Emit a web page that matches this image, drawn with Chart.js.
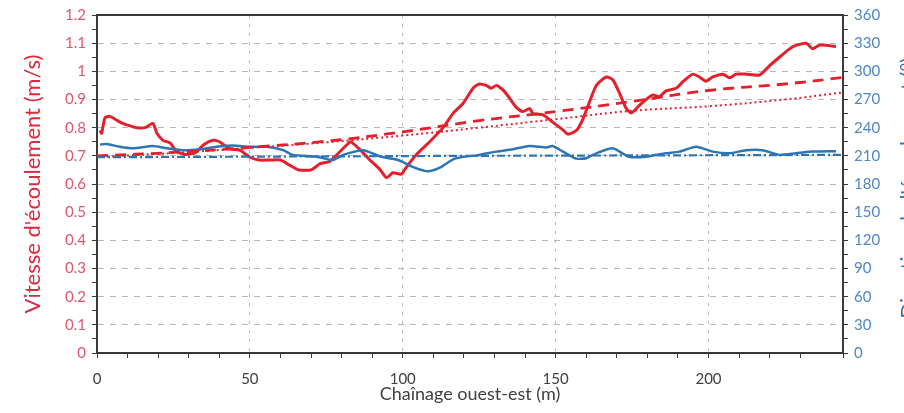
<!DOCTYPE html>
<html>
<head>
<meta charset="utf-8">
<script src="https://cdn.jsdelivr.net/npm/chart.js@4"></script>
<style>
  html, body { margin: 0; padding: 0; background: #fff; overflow: hidden; }
  #wrap { width: 904px; height: 413px; }
</style>
</head>
<body>
<div id="wrap"><canvas id="chart"></canvas></div>
<script>
// chainage (m) and flow speed (m/s)
const speedDist = [1, 1.5, 2.6, 4.2, 7.5, 9.8, 13, 15.7, 18.3, 19.6, 21.6, 24, 26, 28.8, 32, 35, 38, 40, 43.5, 46.7,
  50, 53, 56.5, 60, 63, 66, 70, 73, 76, 79, 82, 83, 86, 89, 92.5, 94.7, 96.8, 99.6, 101.2, 104.5,
  108.8, 113.2, 116.4, 119.7, 123, 125, 127.3, 129, 130.6, 132.8, 135, 137, 139.3, 141.5, 142.6, 145.9,
  149, 152.4, 154, 156.8, 158.5, 160, 163.3, 166.6, 168.7, 171, 173, 174.7, 177.5, 179.6, 181.8, 184,
  186, 189.4, 191.6, 194.9, 197, 199.2, 201.4, 204.7, 206.9, 209, 212.3, 216.7, 220, 223.2, 225.4,
  227.6, 232, 234, 236.3, 238.4, 241.7];
const speed = [0.79, 0.78, 0.835, 0.84, 0.82, 0.81, 0.80, 0.80, 0.815, 0.78, 0.755, 0.745, 0.715, 0.705, 0.71, 0.74, 0.755, 0.75, 0.725, 0.72,
  0.695, 0.685, 0.685, 0.685, 0.667, 0.65, 0.65, 0.672, 0.68, 0.71, 0.742, 0.75, 0.722, 0.688, 0.652, 0.622, 0.64, 0.635, 0.66, 0.705,
  0.75, 0.80, 0.85, 0.886, 0.94, 0.955, 0.95, 0.94, 0.95, 0.934, 0.904, 0.874, 0.857, 0.868, 0.85, 0.845,
  0.82, 0.792, 0.777, 0.79, 0.82, 0.86, 0.95, 0.98, 0.97, 0.92, 0.87, 0.852, 0.88, 0.90, 0.916, 0.91,
  0.93, 0.94, 0.963, 0.99, 0.98, 0.965, 0.98, 0.99, 0.977, 0.99, 0.99, 0.987, 1.02, 1.05, 1.07,
  1.088, 1.10, 1.08, 1.093, 1.093, 1.088];

// speed trends
const trendDist = [0, 25, 50, 75, 100, 125, 150, 175, 200, 225, 244];
const speedTrendDash = [0.70, 0.712, 0.73, 0.752, 0.785, 0.825, 0.857, 0.893, 0.932, 0.955, 0.978];
const speedTrendDot = [0.695, 0.71, 0.728, 0.748, 0.772, 0.80, 0.83, 0.86, 0.876, 0.90, 0.925];

// flow direction (degrees)
const dirDist = [1, 3.2, 7.5, 11.8, 18.3, 22.8, 28, 33.7, 39, 44.5, 50, 55.5, 61, 64, 72, 77, 80.5, 87, 93, 98.5,
  103.4, 108.3, 112.5, 117, 125, 130.6, 136, 141.5, 147, 149, 152.4, 156.8, 160, 163.3, 168.7, 174,
  179.6, 186, 190.5, 196, 201.4, 206.9, 212.3, 217.7, 223.2, 228.6, 234, 241.7];
const direction = [222, 222.6, 219.6, 218, 220.5, 218, 216, 217, 219.6, 221, 219.6, 219.6, 216, 211, 209, 205.5, 211, 216, 209, 205.5,
  198, 193.5, 198, 207, 211, 214.5, 217, 220.5, 219, 220.5, 214.5, 207, 207.5, 212.7, 218, 209,
  209, 212.7, 214.5, 219.6, 214.5, 212.7, 216, 216, 211, 212.7, 214.5, 215];
const dirTrendDist = [0, 122, 244];
const dirTrend = [208.5, 210, 211];

const RED = "#e4202c";
const BLUE = "#2e75b6";
const FONT = "Lato";
const rightTitle = "Direction de l'écoulement (°)";

function pts(xs, ys) {
  return xs.map((x, i) => ({ x: x, y: ys[i] }));
}

// top border of the box + right axis title (cut by the page edge, like the source)
const frame = {
  id: "frame",
  afterDraw(chart) {
    const a = chart.chartArea;
    const ctx = chart.ctx;
    ctx.save();
    ctx.strokeStyle = "#3a3a3a";
    ctx.lineWidth = 2;
    ctx.beginPath();
    ctx.moveTo(a.left - 1, a.top);
    ctx.lineTo(a.right + 1, a.top);
    ctx.stroke();

    ctx.translate(909, 188);
    ctx.rotate(-Math.PI / 2);
    ctx.fillStyle = BLUE;
    ctx.font = "21px " + FONT;
    ctx.textAlign = "center";
    ctx.textBaseline = "middle";
    ctx.fillText(rightTitle, 0, 0);
    ctx.restore();
  }
};

new Chart(document.getElementById("chart"), {
  type: "line",
  data: {
    datasets: [
      { data: pts(dirTrendDist, dirTrend), yAxisID: "y2", borderColor: BLUE, borderWidth: 2.2,
        borderDash: [8, 3, 2, 3], pointRadius: 0, tension: 0 },
      { data: pts(trendDist, speedTrendDot), yAxisID: "y", borderColor: RED, borderWidth: 2,
        borderDash: [2, 3], pointRadius: 0, tension: 0.4 },
      { data: pts(trendDist, speedTrendDash), yAxisID: "y", borderColor: RED, borderWidth: 2.8,
        borderDash: [11, 7], pointRadius: 0, tension: 0.4 },
      { data: pts(dirDist, direction), yAxisID: "y2", borderColor: BLUE, borderWidth: 2.5,
        pointRadius: 0, tension: 0.2 },
      { data: pts(speedDist, speed), yAxisID: "y", borderColor: RED, borderWidth: 3,
        pointRadius: 0, tension: 0.2 }
    ]
  },
  options: {
    responsive: true,
    maintainAspectRatio: false,
    animation: false,
    layout: { padding: { top: 15, left: 0, right: 0, bottom: 0 } },
    plugins: { legend: { display: false }, tooltip: { enabled: false } },
    scales: {
      x: {
        type: "linear",
        min: 0,
        max: 244,
        afterFit(s) { s.height = 60; },
        ticks: {
          stepSize: 10,
          autoSkip: false,
          maxRotation: 0,
          padding: 12,
          color: "#404040",
          font: { family: FONT, size: 15 },
          callback: (v) => (v % 50 === 0 ? String(v) : "")
        },
        grid: {
          color: (c) => (c.tick && c.tick.value % 50 === 0 && c.tick.value > 0 ? "#b8b8b8" : "rgba(0,0,0,0)"),
          tickColor: "#3a3a3a",
          tickLength: 5
        },
        border: { color: "#3a3a3a", width: 2, dash: [3, 6] },
        title: {
          display: true,
          text: "Chaînage ouest-est (m)",
          color: "#404040",
          font: { family: FONT, size: 18, lineHeight: 1 },
          padding: { top: 0, bottom: 10 }
        }
      },
      y: {
        position: "left",
        min: 0,
        max: 1.2,
        afterFit(s) { s.width = 97; },
        ticks: {
          stepSize: 0.05,
          autoSkip: false,
          padding: 6,
          color: "#e2556a",
          font: { family: FONT, size: 15 },
          callback: (v) => {
            const k = Math.round(v * 100);
            return k % 10 === 0 ? String(k / 100) : "";
          }
        },
        grid: {
          color: (c) => (c.tick && Math.round(c.tick.value * 100) % 10 === 0 ? "#b8b8b8" : "rgba(0,0,0,0)"),
          tickColor: "#3a3a3a",
          tickLength: 5
        },
        border: { color: "#3a3a3a", width: 2, dash: [6, 6] },
        title: {
          display: true,
          text: "Vitesse d'écoulement (m/s)",
          color: "#e0283c",
          font: { family: FONT, size: 22 },
          padding: { top: 20, bottom: 0 }
        }
      },
      y2: {
        position: "right",
        min: 0,
        max: 360,
        afterFit(s) { s.width = 61; },
        ticks: {
          stepSize: 15,
          autoSkip: false,
          padding: 6,
          color: "#4f86c6",
          font: { family: FONT, size: 15 },
          callback: (v) => (v % 30 === 0 ? String(v) : "")
        },
        grid: { drawOnChartArea: false, tickColor: "#3a3a3a", tickLength: 5 },
        border: { color: "#3a3a3a", width: 2 }
      }
    }
  },
  plugins: [frame]
});
</script>
</body>
</html>
